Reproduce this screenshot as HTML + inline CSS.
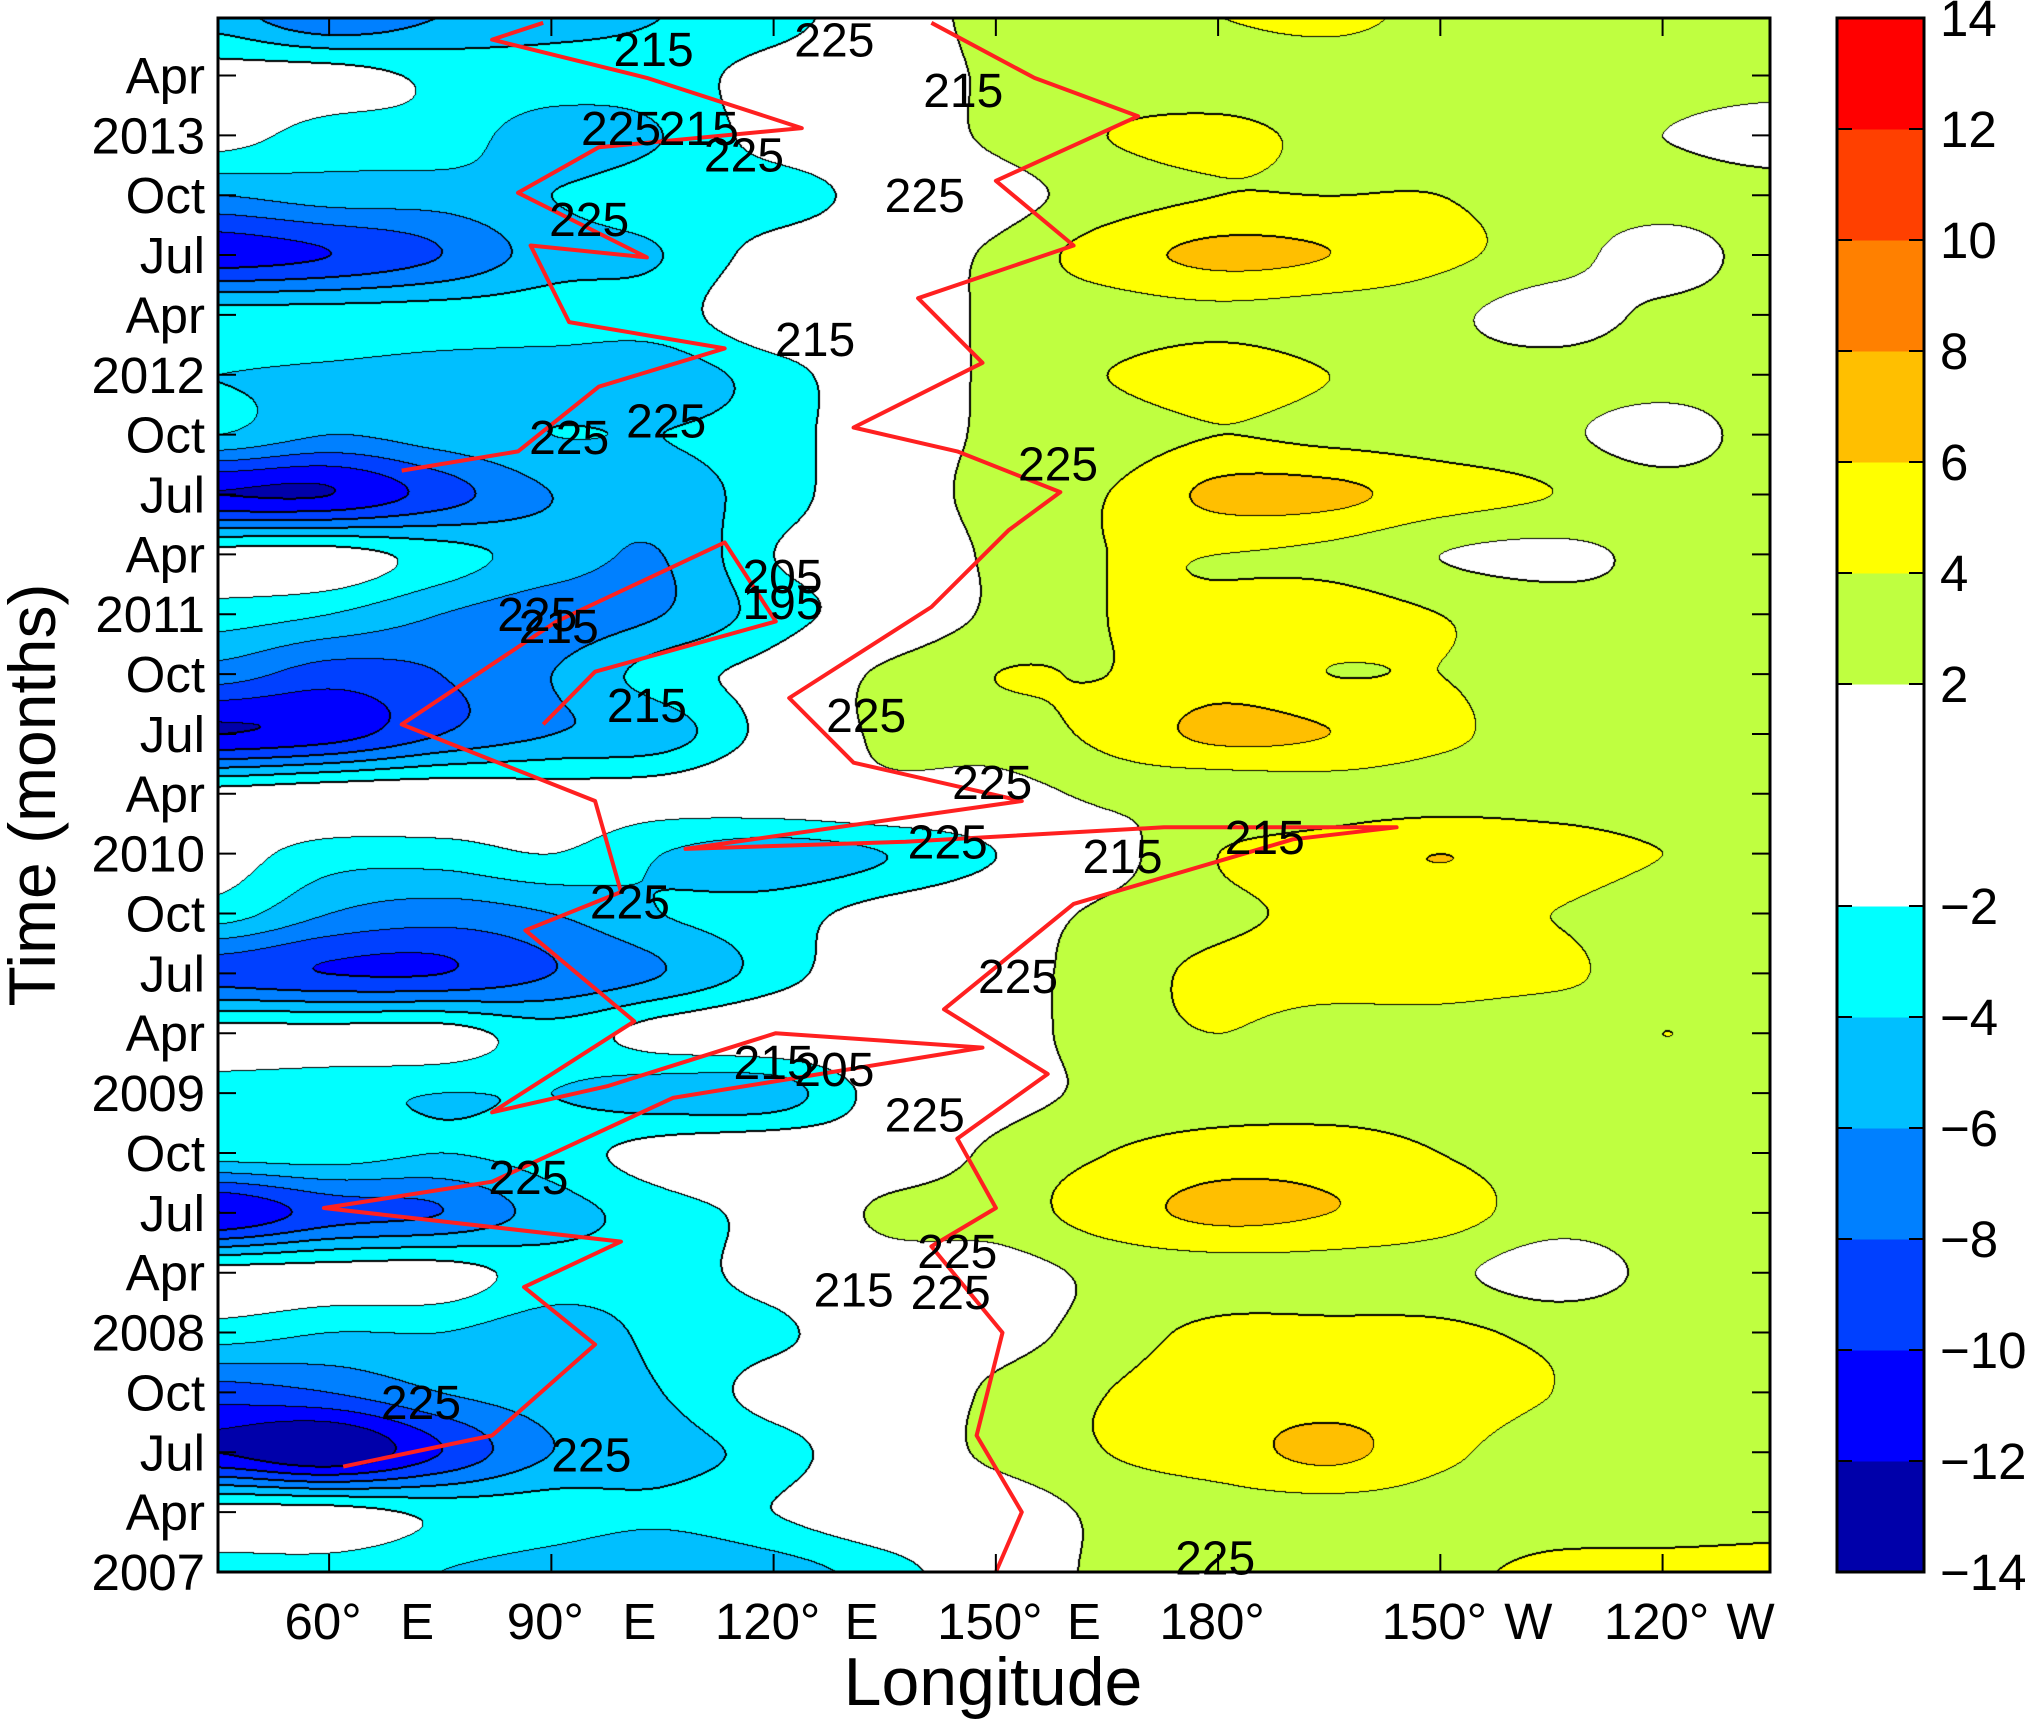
<!DOCTYPE html>
<html><head><meta charset="utf-8">
<style>
html,body{margin:0;padding:0;background:#fff;}
#wrap{position:relative;width:2026px;height:1721px;overflow:hidden;font-family:"Liberation Sans",sans-serif;}
canvas{position:absolute;left:218px;top:18px;}
svg{position:absolute;left:0;top:0;}
</style></head>
<body>
<div id="wrap">
<canvas id="field" width="1552" height="1554"></canvas>
<svg id="ov" width="2026" height="1721"></svg>
</div>
<script>
// ---- data ----
const lons = [45,60,75,90,105,120,135,150,165,180,195,210,225,240,255];
const times = [2007.0,2007.25,2007.5,2007.75,2008.0,2008.25,2008.5,2008.75,2009.0,2009.25,2009.5,2009.75,2010.0,2010.25,2010.5,2010.75,2011.0,2011.25,2011.5,2011.75,2012.0,2012.25,2012.5,2012.75,2013.0,2013.25,2013.5];
const fieldRows = [
[-3,-3,-4,-5,-6,-5,-3,0,2.5,3,3,3.5,4.5,5,5],
[-1,-1,-2.5,-3,-3.5,-2,0,0.5,2.5,3,3,3,3,2.5,3],
[-12,-14,-10,-6,-5,-3,0,2.5,4,5,6.5,4.5,3,3,3],
[-9,-8,-6,-5,-4,-1,-0.5,2.5,4,5,5,5,4,3,3],
[-3,-4,-4,-5,-3.5,-2.5,0,1,3,4.5,4.5,4.5,3.5,3,2.5],
[-1,-1,-1,-3,-3,-1,0.5,1,2.5,3,3,2.5,1,2.5,3],
[-12,-9,-8,-5,-3,-1,2.5,3,5,6.5,6,5,3,3,3],
[-3,-3,-4,-3,-1,0,0,2.5,4,5,5,4,3,3,3],
[-3,-3.5,-4,-4,-5,-5,-1,1,2.5,3,3,3,2.5,3,3],
[-1,-1,-1,-3,-1,0,0.5,1,3,4,3,3,2.5,4,3],
[-9,-10,-10,-8,-6,-3,0,1,3,4.5,5,5,4.5,3,3],
[-3,-6,-7,-6,-4,-3,-1,0.5,2.5,3.5,4.5,4.5,4,3,3],
[-1,-3,-3,-2,-4,-5,-4,-2,1,4,5,6,5,4,4],
[-1,-0.5,-0.5,-1,-1,0,1,1,2.5,2.5,3,3,3,3,3],
[-12,-11,-8,-6,-5,-1,2.5,3,4.5,6.5,6,4.5,3,3,3],
[-7,-9,-8,-6,-3,-1,2.5,4,4,5,4,4,3,3,3],
[-3,-4,-6,-7,-6,-3,-0.5,2.5,4,4.5,5,4,3,2.5,3],
[-1,-1,-3,-5,-6,-2,-0.5,2.5,4,4,3.5,2,1.5,2.5,3],
[-12,-12,-9,-6,-5,-3,0,3,4,6.5,6.5,5,4,3,3],
[-4,-6,-5,-4,-4,-3,0,2.5,3,4,3.5,3,2.5,1,3],
[-4,-4.5,-5,-5,-5,-3,0,2.5,4,5,4,3,3,3,3],
[-3,-3,-3,-3,-3,0,0,2.5,3,3.5,3,2.5,1,2.5,3],
[-11,-10,-8,-5,-4,-1,0,2.5,5,6.5,6,4.5,3,1,3],
[-6,-5,-5,-4,-3,-3,-1,1,3,4,4,4,3,3,3],
[-1,-3,-3,-5,-4,-1,0,2.5,4,4.5,3.5,3,2.5,2,1],
[-1,-1,-2.5,-3,-3,-1,0,2.5,3,3,3,3,3,3,3],
[-5,-8,-6,-5,-4,-3,0,3,3.5,4,4.5,3.5,3.5,3.5,3.5]
];
const levels = [-14,-12,-10,-8,-6,-4,-2,0,2,4,6,8,10,12,14];
const levelColors = ['#0000aa','#0000ff','#0040ff','#0080ff','#00bfff','#00ffff','#ffffff','#ffffff','#bfff40','#ffff00','#ffbf00','#ff8000','#ff4000','#ff0000'];
// red OLR contours (lon, year); NaN = break
const olrLonA = [150,153.5,147.4,150.9,141.3,150,144.8,157,143,160.5,190.1,204.1,172.7,137.8,108.1,153.5,130.8,122.1,141.3,151.7,158.7,144.8,130.8,148.2,139.5,160.5,150,169.2,155.2,141.3];
const olrTimeA = [2007.0,2007.25,2007.57,2008.0,2008.36,2008.52,2008.81,2009.08,2009.35,2009.79,2010.06,2010.11,2010.11,2010.05,2010.02,2010.22,2010.38,2010.65,2011.03,2011.35,2011.51,2011.68,2011.78,2012.05,2012.32,2012.54,2012.81,2013.08,2013.24,2013.47];
const olrLonB = [61.9,82,95.9,86.3,99.4,59.3,82,106.4,148.2,120.3,97.7,82,101.2,86.5,99.4,95.9,69.8,90.7,113.4,120.3,95.9,88.9,NaN,69.8,85.5,96.4,113.4,92.4,87.2,102.9,85.5,96.4,123.8,102.9,82,88.9];
const olrTimeB = [2007.44,2007.57,2007.95,2008.19,2008.38,2008.52,2008.63,2008.98,2009.19,2009.25,2009.03,2008.92,2009.3,2009.68,2009.84,2010.22,2010.54,2010.97,2011.3,2010.97,2010.76,2010.54,NaN,2011.6,2011.68,2011.95,2012.11,2012.22,2012.54,2012.49,2012.76,2012.95,2013.03,2013.24,2013.4,2013.47];
const olrLabels = ['215','225','215','225','215','225','225','225','215','225','225','225','205','195','225','215','215','225','225','225','215','215','225','225','215','205','225','225','225','215','225','225','225','225'];
const olrLabelLon = [103.8,128.2,145.6,99.4,109.9,116,140.4,95.1,125.6,92.4,105.5,158.4,121.2,121.2,88.1,91,102.9,132.5,149.5,143.5,167.1,186.3,100.6,153,120,128.2,140.4,86.9,144.8,130.8,143.9,72.4,95.4,179.6];
const olrLabelTime = [2013.36,2013.4,2013.19,2013.03,2013.03,2012.92,2012.75,2012.65,2012.15,2011.74,2011.81,2011.63,2011.16,2011.05,2011.0,2010.95,2010.62,2010.58,2010.3,2010.05,2009.99,2010.07,2009.8,2009.49,2009.13,2009.1,2008.91,2008.65,2008.34,2008.18,2008.17,2007.71,2007.49,2007.06];
const xTickLon = [60,90,120,150,180,210,240];
const xTickText = ['60°','90°','120°','150°','180°','150°','120°'];
const xTickHemi = ['E','E','E','E','','W','W'];
const yTickTime = [2007,2007.25,2007.5,2007.75,2008,2008.25,2008.5,2008.75,2009,2009.25,2009.5,2009.75,2010,2010.25,2010.5,2010.75,2011,2011.25,2011.5,2011.75,2012,2012.25,2012.5,2012.75,2013,2013.25];
const yTickText = ['2007','Apr','Jul','Oct','2008','Apr','Jul','Oct','2009','Apr','Jul','Oct','2010','Apr','Jul','Oct','2011','Apr','Jul','Oct','2012','Apr','Jul','Oct','2013','Apr'];
const cbTicks = [-14,-12,-10,-8,-6,-4,-2,2,4,6,8,10,12,14];

// ---- axes ----
const PL=218, PT=18, PW=1552, PH=1554;
const LON0=45, LON1=254.5, T0=2007.0, T1=2013.49;
const xS = lon => PL + (lon-LON0)/(LON1-LON0)*PW;
const yS = t => PT + PH - (t-T0)/(T1-T0)*PH;
const CBX=1837, CBW=87;
const cbY = v => PT + PH - (v+14)/28*PH;

// ---- field ----
function cr(p0,p1,p2,p3,t){return 0.5*((2*p1)+(-p0+p2)*t+(2*p0-5*p1+4*p2-p3)*t*t+(-p0+3*p1-3*p2+p3)*t*t*t);}
function val(lon,t){
  const nx=lons.length, ny=times.length;
  let fx=(lon-lons[0])/(lons[1]-lons[0]); let fy=(t-times[0])/(times[1]-times[0]);
  fx=Math.max(0,Math.min(nx-1.0001,fx)); fy=Math.max(0,Math.min(ny-1.0001,fy));
  const ix=Math.floor(fx), iy=Math.floor(fy), tx=fx-ix, ty=fy-iy;
  const g=(j,i)=>fieldRows[Math.max(0,Math.min(ny-1,j))][Math.max(0,Math.min(nx-1,i))];
  const r=[];
  for(let j=-1;j<=2;j++) r.push(cr(g(iy+j,ix-1),g(iy+j,ix),g(iy+j,ix+1),g(iy+j,ix+2),tx));
  return cr(r[0],r[1],r[2],r[3],ty);
}
function cls(v){
  if(v>-2&&v<2) return 6;
  let k=Math.floor((v+14)/2); return Math.max(0,Math.min(13,k));
}
function hex(h){return [parseInt(h.substr(1,2),16),parseInt(h.substr(3,2),16),parseInt(h.substr(5,2),16)];}
const rgb=levelColors.map(hex);
(function(){
  const c=document.getElementById('field'), ctx=c.getContext('2d');
  const img=ctx.createImageData(PW,PH), d=img.data;
  const C=new Uint8Array(PW*PH);
  for(let y=0;y<PH;y++){
    const t=T0+(PH-y)/PH*(T1-T0);
    for(let x=0;x<PW;x++){
      const lon=LON0+x/PW*(LON1-LON0);
      C[y*PW+x]=cls(val(lon,t));
    }
  }
  for(let y=0;y<PH;y++)for(let x=0;x<PW;x++){
    const i=y*PW+x, k=C[i];
    let edge=false;
    if(x+1<PW&&C[i+1]!==k) edge=true;
    if(y+1<PH&&C[i+PW]!==k) edge=true;
    if(x>0&&C[i-1]!==k&&C[i-1]<k) edge=true;
    if(y>0&&C[i-PW]!==k&&C[i-PW]<k) edge=true;
    const col=edge?[0,0,0]:rgb[k];
    d[i*4]=col[0];d[i*4+1]=col[1];d[i*4+2]=col[2];d[i*4+3]=255;
  }
  ctx.putImageData(img,0,0);
})();

// ---- overlay ----
const NS='http://www.w3.org/2000/svg';
const ov=document.getElementById('ov');
function mk(tag,attrs,parent){const e=document.createElementNS(NS,tag);for(const k in attrs)e.setAttribute(k,attrs[k]);(parent||ov).appendChild(e);return e;}
function pathFrom(lo,ti){
  let s='',pen=false;
  for(let i=0;i<lo.length;i++){
    if(isNaN(lo[i])){pen=false;continue;}
    s+=(pen?'L':'M')+xS(lo[i]).toFixed(1)+' '+yS(ti[i]).toFixed(1)+' ';pen=true;
  }
  return s;
}
const gOlr=mk('g',{});


const pa=mk('path',{d:pathFrom(olrLonA,olrTimeA),fill:'none',stroke:'#ff2020',"stroke-width":4,"stroke-linejoin":'round'},gOlr);


const pb=mk('path',{d:pathFrom(olrLonB,olrTimeB),fill:'none',stroke:'#ff2020',"stroke-width":4,"stroke-linejoin":'round'},gOlr);


for(let i=0;i<olrLabels.length;i++){
  const t=mk('text',{x:xS(olrLabelLon[i]),y:yS(olrLabelTime[i])+17,"font-size":48,"text-anchor":'middle',fill:'#000'},gOlr);
  t.textContent=olrLabels[i];
  
  
}
// frame
const fr=mk('rect',{x:PL,y:PT,width:PW,height:PH,fill:'none',stroke:'#000',"stroke-width":3});


// x ticks
for(let i=0;i<xTickLon.length;i++){
  const x=xS(xTickLon[i]);
  mk('line',{x1:x,y1:PT+PH,x2:x,y2:PT+PH-18,stroke:'#000',"stroke-width":2});
  mk('line',{x1:x,y1:PT,x2:x,y2:PT+18,stroke:'#000',"stroke-width":2});
  const t=mk('text',{x:x-6,y:1639,"font-size":51,"text-anchor":'middle'});
  t.textContent=xTickText[i];
  
  
  if(xTickHemi[i]){
    const h=mk('text',{x:x+88,y:1639,"font-size":51,"text-anchor":'middle'});
    h.textContent=xTickHemi[i];
    
    
  }
}
// y ticks
for(let i=0;i<yTickTime.length;i++){
  const y=yS(yTickTime[i]);
  mk('line',{x1:PL,y1:y,x2:PL+18,y2:y,stroke:'#000',"stroke-width":2});
  mk('line',{x1:PL+PW,y1:y,x2:PL+PW-18,y2:y,stroke:'#000',"stroke-width":2});
  const t=mk('text',{x:205,y:y+18,"font-size":51,"text-anchor":'end'});
  t.textContent=yTickText[i];
  
  
}
// axis titles
const xt=mk('text',{x:993,y:1705,"font-size":68,"text-anchor":'middle'});
xt.textContent='Longitude';


const yt=mk('text',{x:0,y:0,"font-size":66,"text-anchor":'middle',transform:'translate(55,795) rotate(-90)'});
yt.textContent='Time (months)';


// colorbar
const cb=mk('g',{});


for(let k=0;k<14;k++){
  const r=mk('rect',{x:CBX,y:cbY(levels[k+1]),width:CBW,height:cbY(levels[k])-cbY(levels[k+1])+0.5,fill:levelColors[k]},cb);
  
  
}
mk('rect',{x:CBX,y:PT,width:CBW,height:PH,fill:'none',stroke:'#000',"stroke-width":3},cb);
for(const v of cbTicks){
  const y=cbY(v);
  if(v>-14&&v<14){
    mk('line',{x1:CBX,y1:y,x2:CBX+15,y2:y,stroke:'#000',"stroke-width":2},cb);
    mk('line',{x1:CBX+CBW,y1:y,x2:CBX+CBW-15,y2:y,stroke:'#000',"stroke-width":2},cb);
  }
  const t=mk('text',{x:1940,y:y+18,"font-size":51},cb);
  t.textContent=(v<0?'\u2212':'')+Math.abs(v);
  
  
}
</script>
</body></html>
